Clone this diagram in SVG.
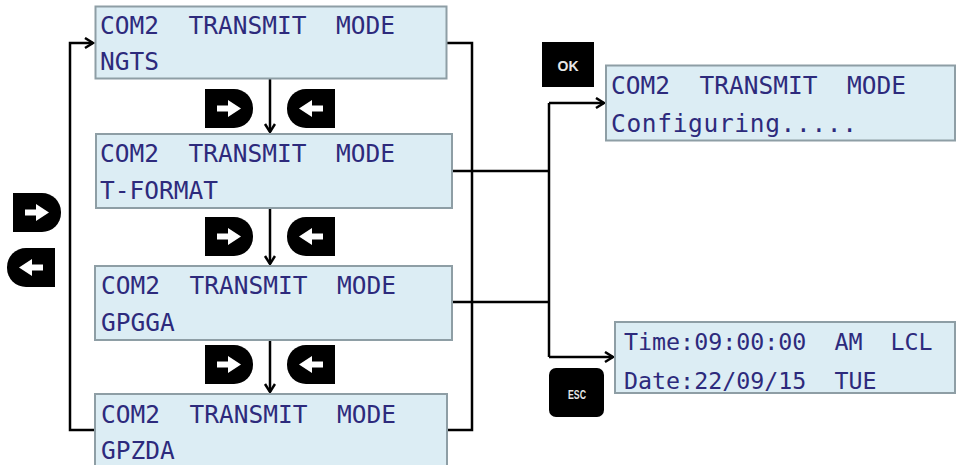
<svg xmlns="http://www.w3.org/2000/svg" width="956" height="465" viewBox="0 0 956 465">
<defs>
<style>
.box{fill:#dcedf4;stroke:#8e9ea5;stroke-width:2}
.lcd{font-family:"DejaVu Sans Mono","Liberation Mono",monospace;font-size:24.5px;fill:#2d2a7c;white-space:pre}
.lcd2{font-family:"DejaVu Sans Mono","Liberation Mono",monospace;font-size:23.3px;fill:#2d2a7c;white-space:pre}
.con{fill:none;stroke:#000;stroke-width:2.5}
.btn{fill:#000}
.btnt{font-family:"Liberation Sans",Arial,sans-serif;font-weight:bold;fill:#e6e6e6;text-anchor:middle}
</style>
<marker id="arr" markerUnits="userSpaceOnUse" markerWidth="14" markerHeight="14" refX="9" refY="6" orient="auto" viewBox="0 0 14 14">
<path d="M1,1 L9,6 L1,11" fill="none" stroke="#000" stroke-width="2.5"/>
</marker>
<g id="keyR">
<path d="M0 0 H29 A19 19 0 0 1 48 19 V20 A19 19 0 0 1 29 39 H0 Z" fill="#000"/>
<rect x="12" y="16.5" width="14" height="6" fill="#fff"/>
<path d="M23 11 L36 19.5 L23 28 Z" fill="#fff"/>
</g>
<g id="keyL">
<path d="M48 0 H19 A19 19 0 0 0 0 19 V20 A19 19 0 0 0 19 39 H48 Z" fill="#000"/>
<rect x="22" y="16.5" width="14" height="6" fill="#fff"/>
<path d="M25 11 L12 19.5 L25 28 Z" fill="#fff"/>
</g>
</defs>
<rect width="956" height="465" fill="#fff"/>

<g id="connectors">
<path class="con" d="M95 430 H70 V43 H93" marker-end="url(#arr)"/>
<path class="con" d="M447 43 H472 V430 H447"/>
<path class="con" d="M270 79 V132" marker-end="url(#arr)"/>
<path class="con" d="M270 208 V264" marker-end="url(#arr)"/>
<path class="con" d="M270 340 V392" marker-end="url(#arr)"/>
<path class="con" d="M452 171 H549"/>
<path class="con" d="M452 302 H549"/>
<path class="con" d="M549 103 V357"/>
<path class="con" d="M549 103 H604" marker-end="url(#arr)"/>
<path class="con" d="M549 357 H613" marker-end="url(#arr)"/>
</g>

<g id="keys">
<use href="#keyR" x="205" y="89"/>
<use href="#keyL" x="287" y="89"/>
<use href="#keyR" x="205" y="217"/>
<use href="#keyL" x="287" y="217"/>
<use href="#keyR" x="205" y="345"/>
<use href="#keyL" x="287" y="345"/>
<use href="#keyR" x="13" y="193"/>
<use href="#keyL" x="7" y="248"/>
</g>

<g id="node-ngts">
<rect class="box" x="95.5" y="6.5" width="351" height="72"/>
<text class="lcd" x="100" y="34" xml:space="preserve">COM2  TRANSMIT  MODE</text>
<text class="lcd" x="100" y="70">NGTS</text>
</g>
<g id="node-tformat">
<rect class="box" x="96" y="134" width="356" height="74"/>
<text class="lcd" x="100" y="162" xml:space="preserve">COM2  TRANSMIT  MODE</text>
<text class="lcd" x="100" y="199">T-FORMAT</text>
</g>
<g id="node-gpgga">
<rect class="box" x="95" y="266" width="357" height="74"/>
<text class="lcd" x="101" y="294" xml:space="preserve">COM2  TRANSMIT  MODE</text>
<text class="lcd" x="101" y="331">GPGGA</text>
</g>
<g id="node-gpzda">
<rect class="box" x="95" y="394" width="352" height="76"/>
<text class="lcd" x="101" y="423" xml:space="preserve">COM2  TRANSMIT  MODE</text>
<text class="lcd" x="101" y="459">GPZDA</text>
</g>
<g id="node-configuring">
<rect class="box" x="606" y="65.5" width="349" height="75"/>
<text class="lcd" x="611" y="94" xml:space="preserve">COM2  TRANSMIT  MODE</text>
<text class="lcd" x="611" y="132" textLength="246">Configuring.....</text>
</g>
<g id="node-time">
<rect class="box" x="615" y="322" width="340" height="71"/>
<text class="lcd2" x="624" y="350" xml:space="preserve">Time:09:00:00  AM  LCL</text>
<text class="lcd2" x="624" y="389" xml:space="preserve">Date:22/09/15  TUE</text>
</g>
<g id="btn-ok">
<rect class="btn" x="542" y="42" width="52" height="45"/>
<text class="btnt" x="568" y="71" font-size="14">OK</text>
</g>
<g id="btn-esc">
<rect class="btn" x="549" y="368" width="55" height="49" rx="7"/>
<text class="btnt" x="577" y="399" font-size="13.5" textLength="18" lengthAdjust="spacingAndGlyphs">ESC</text>
</g>
</svg>
